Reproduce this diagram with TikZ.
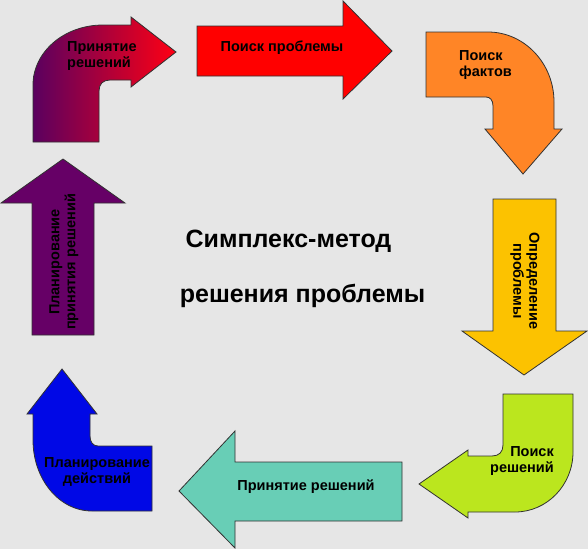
\documentclass[tikz,border=0pt]{standalone}
\usepackage{fontspec}
\setmainfont{Liberation Sans}
\definecolor{bggray}{RGB}{230,230,230}
\definecolor{edge}{RGB}{50,50,50}
\definecolor{gradL}{RGB}{90,0,95}
\definecolor{gradR}{RGB}{255,0,20}
\definecolor{redA}{RGB}{255,0,0}
\definecolor{orangeA}{RGB}{255,133,38}
\definecolor{yellowA}{RGB}{252,194,0}
\definecolor{limeA}{RGB}{187,230,30}
\definecolor{tealA}{RGB}{104,206,182}
\definecolor{blueA}{RGB}{0,8,230}
\definecolor{purpleA}{RGB}{102,0,102}
\tikzset{
  arrowshape/.style={draw=edge, line width=0.8pt, line join=miter},
  lbl/.style={font=\bfseries\fontsize{14.5}{16}\selectfont, inner sep=0pt, text=black},
  title/.style={font=\bfseries\fontsize{25}{30}\selectfont, inner sep=0pt, text=black, anchor=base}
}
\begin{document}
\begin{tikzpicture}[x=1pt,y=-1pt]
\useasboundingbox (0,0) rectangle (588,549);
\fill[bggray] (0,0) rectangle (588,549);
% top-left bent arrow (gradient)
\path[arrowshape, left color=gradL, right color=gradR]
  (33,142) -- (33,85) .. controls (33,52) and (64,25) .. (103,25)
  -- (131,25) -- (131,17) -- (176,52) -- (131,87) -- (131,80) -- (110,80)
  .. controls (103,80) and (99,84) .. (99,91) -- (99,142) -- cycle;
% red straight arrow
\path[arrowshape, fill=redA]
  (197,26) -- (343,26) -- (343,1) -- (392,51) -- (343,99) -- (343,76) -- (197,76) -- cycle;
% orange bent arrow
\path[arrowshape, fill=orangeA]
  (426,32) -- (488,32) .. controls (524,32) and (554,63) .. (554,102)
  -- (554,129) -- (562,129) -- (523,174) -- (485,129) -- (493,129) -- (493,106)
  .. controls (493,100) and (490,97) .. (486,97) -- (426,97) -- cycle;
% yellow straight arrow
\path[arrowshape, fill=yellowA]
  (493,199) -- (556,199) -- (556,331) -- (587,331) -- (524,375) -- (462,331) -- (493,331) -- cycle;
% lime bent arrow
\path[arrowshape, fill=limeA]
  (503,394) -- (573,394) -- (573,452) .. controls (573,485) and (547,512) .. (515,512)
  -- (468,512) -- (468,518) -- (419,484) -- (468,450) -- (468,456) -- (492,456)
  .. controls (499,456) and (503,452) .. (503,445) -- cycle;
% teal straight arrow
\path[arrowshape, fill=tealA]
  (402,462) -- (402,521) -- (235,521) -- (235,548) -- (179,491) -- (235,431) -- (235,462) -- cycle;
% blue bent arrow
\path[arrowshape, fill=blueA]
  (62,369) -- (97,414) -- (90,414) -- (90,436) .. controls (90,442) and (93,446) .. (98,446)
  -- (152,446) -- (152,511) -- (92,511) .. controls (59,511) and (33,479) .. (33,440)
  -- (33,414) -- (27,414) -- cycle;
% purple straight arrow
\path[arrowshape, fill=purpleA]
  (32,335) -- (32,203) -- (1,203) -- (63,159) -- (125,203) -- (94,203) -- (94,335) -- cycle;
% labels
\node[lbl, anchor=west, align=left] (tA) at (67,56) {Принятие\\решений};
\node[lbl] (tB) at (282,48) {Поиск проблемы};
\node[lbl, anchor=west, align=left] (tC) at (459,65) {Поиск\\фактов};
\node[lbl, rotate=-90, align=center] (tD) at (525,281) {Определение\\проблемы};
\node[lbl, anchor=east, align=right] (tE) at (554,461) {Поиск\\решений};
\node[lbl] (tF) at (306,487) {Принятие решений};
\node[lbl, align=center] (tG) at (97,472) {Планирование\\действий};
\node[lbl, rotate=90, align=center] (tH) at (64,262) {Планирование\\принятия решений};
\node[title] (m1) at (288.5,247) {Симплекс-метод};
\node[title] (m2) at (302.5,302) {решения проблемы};
\end{tikzpicture}
\end{document}
